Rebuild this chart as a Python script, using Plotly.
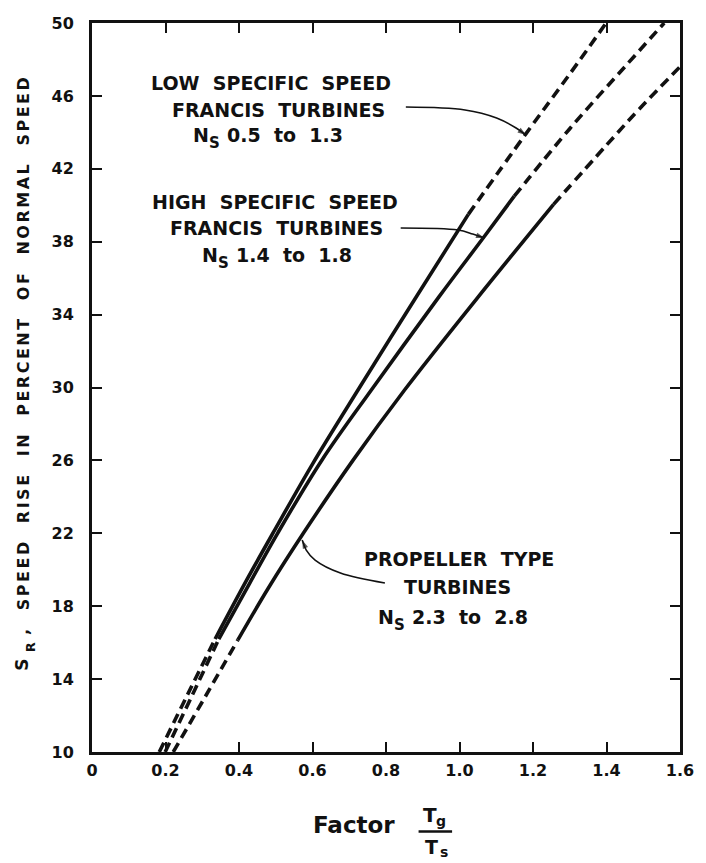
import plotly.graph_objects as go

# ---------------- data ----------------
x_ticks = [0, 0.2, 0.4, 0.6, 0.8, 1.0, 1.2, 1.4, 1.6]
x_tick_labels = ["0", "0.2", "0.4", "0.6", "0.8", "1.0", "1.2", "1.4", "1.6"]
y_ticks = [10, 14, 18, 22, 26, 30, 34, 38, 42, 46, 50]
y_tick_labels = ["10", "14", "18", "22", "26", "30", "34", "38", "42", "46", "50"]

# Low specific speed Francis turbines, Ns 0.5 to 1.3
low_x = [0.183, 0.26, 0.335, 0.42, 0.495, 0.60, 0.728, 0.88, 1.024, 1.18, 1.30, 1.399]
low_y = [10, 13.15, 16.2, 19.4, 22.1, 25.8, 30.0, 34.9, 39.5, 43.9, 47.2, 50]
low_solid = (2, 8)   # index range drawn solid; rest dashed

# High specific speed Francis turbines, Ns 1.4 to 1.8
mid_x = [0.199, 0.27, 0.345, 0.43, 0.505, 0.625, 0.765, 0.945, 1.068, 1.149, 1.30, 1.45, 1.557]
mid_y = [10, 13.0, 16.2, 19.3, 22.0, 26.0, 30.0, 35.0, 38.3, 40.5, 44.2, 47.6, 50]
mid_solid = (2, 9)

# Propeller type turbines, Ns 2.3 to 2.8
prop_x = [0.221, 0.31, 0.397, 0.48, 0.575, 0.71, 0.85, 1.044, 1.256, 1.40, 1.49, 1.60]
prop_y = [10, 13.1, 16.15, 19.0, 22.0, 26.0, 29.85, 34.8, 40.05, 43.3, 45.3, 47.6]
prop_solid = (2, 8)

# label texts (two heading lines + Ns range)
low_label = ["LOW  SPECIFIC  SPEED", "FRANCIS  TURBINES"]
mid_label = ["HIGH  SPECIFIC  SPEED", "FRANCIS  TURBINES"]
prop_label = ["PROPELLER  TYPE", "TURBINES"]
low_ns = "0.5  to  1.3"
mid_ns = "1.4  to  1.8"
prop_ns = "2.3  to  2.8"

# label anchor positions (data coordinates): line centres, Ns line = left edge of "N"
low_label_pos = [(0.488, 46.71), (0.507, 45.25)]
mid_label_pos = [(0.497, 40.18), (0.503, 38.75)]
prop_label_pos = [(0.998, 20.59), (0.995, 19.03)]
low_ns_pos = (0.2685, 43.86)
mid_ns_pos = (0.2926, 37.27)
prop_ns_pos = (0.773, 17.41)

# leader arrows: shaft points, last one is the tip (data coordinates)
low_arrow_x = [0.854, 1.015, 1.101, 1.154, 1.181]
low_arrow_y = [45.39, 45.23, 44.79, 44.24, 43.85]
mid_arrow_x = [0.840, 0.996, 1.036, 1.068]
mid_arrow_y = [38.75, 38.64, 38.42, 38.20]
prop_arrow_x = [0.797, 0.676, 0.607, 0.583, 0.572]
prop_arrow_y = [19.27, 19.82, 20.53, 21.08, 21.63]

FONT = "DejaVu Sans"
BLACK = "#111111"

fig = go.Figure()


def add_curve(xs, ys, solid):
    a, b = solid
    segs = [(0, a, "10px,6px"), (a, b, "solid"), (b, len(xs) - 1, "10px,6px")]
    for s, e, dash in segs:
        fig.add_trace(go.Scatter(
            x=xs[s:e + 1], y=ys[s:e + 1], mode="lines",
            line=dict(color=BLACK, width=3.6, dash=dash, shape="spline", smoothing=1.0),
            hoverinfo="skip", showlegend=False))


add_curve(low_x, low_y, low_solid)
add_curve(mid_x, mid_y, mid_solid)
add_curve(prop_x, prop_y, prop_solid)

# leader arrows (shaft + arrow-head marker at the tip)
for ax_, ay_ in [(low_arrow_x, low_arrow_y), (mid_arrow_x, mid_arrow_y), (prop_arrow_x, prop_arrow_y)]:
    n = len(ax_)
    fig.add_trace(go.Scatter(
        x=ax_, y=ay_, mode="lines+markers",
        line=dict(color=BLACK, width=1.6, shape="spline"),
        marker=dict(symbol="arrow", angleref="previous", color=BLACK,
                    size=[0] * (n - 1) + [9], line=dict(width=0)),
        hoverinfo="skip", showlegend=False))


def txt(x, y, t, size, xref="x", yref="y", xanchor="center", xshift=0, yshift=0, angle=0):
    fig.add_annotation(x=x, y=y, xref=xref, yref=yref, text=t, showarrow=False,
                       xanchor=xanchor, yanchor="middle", xshift=xshift, yshift=yshift,
                       textangle=angle,
                       font=dict(family=FONT, size=size, color=BLACK, weight="bold"))


for labels, poss in [(low_label, low_label_pos), (mid_label, mid_label_pos), (prop_label, prop_label_pos)]:
    for t, (px, py) in zip(labels, poss):
        txt(px, py, t, 19)

for ns, (px, py) in [(low_ns, low_ns_pos), (mid_ns, mid_ns_pos), (prop_ns, prop_ns_pos)]:
    txt(px, py, "N", 19, xanchor="left")
    txt(px, py, "S", 15, xanchor="left", xshift=16, yshift=-8)
    txt(px, py, ns, 19, xanchor="left", xshift=34)

# y-axis title: "S_R, SPEED RISE IN PERCENT OF NORMAL SPEED"
txt(-0.117, 0.545, '<span style="letter-spacing:2.5px">,  SPEED  RISE  IN  PERCENT  OF  NORMAL  SPEED</span>',
    16, xref="paper", yref="paper", angle=-90)
txt(-0.118, 0.119, "S", 17, xref="paper", yref="paper", angle=-90)
txt(-0.118, 0.143, "R", 13, xref="paper", yref="paper", angle=-90, xshift=8)

# x-axis title: Factor Tg / Ts
txt(0.4463, -0.1001, "Factor", 23, xref="paper", yref="paper")
txt(0.574, -0.0870, "T", 20, xref="paper", yref="paper")
txt(0.594, -0.0940, "g", 14, xref="paper", yref="paper")
txt(0.578, -0.1300, "T", 19, xref="paper", yref="paper")
txt(0.598, -0.1365, "s", 14, xref="paper", yref="paper")
fig.add_shape(type="line", xref="paper", yref="paper", x0=0.5554, x1=0.6124,
              y0=-0.1090, y1=-0.1090, line=dict(color=BLACK, width=2.5))

axis_common = dict(showgrid=False, zeroline=False, showline=True, linecolor=BLACK,
                   linewidth=3, mirror="allticks", ticks="inside", ticklen=10,
                   tickwidth=2, tickcolor=BLACK,
                   tickfont=dict(family=FONT, size=16, color=BLACK, weight="bold"))

fig.update_layout(
    width=706, height=863,
    margin=dict(l=92, r=18, t=23, b=111),
    paper_bgcolor="white", plot_bgcolor="white",
    xaxis=dict(range=[0, 1.6], tickvals=x_ticks, ticktext=x_tick_labels,
               ticklabelstandoff=2, **axis_common),
    yaxis=dict(range=[10, 50], tickvals=y_ticks, ticktext=y_tick_labels,
               ticklabelstandoff=12, **axis_common),
    showlegend=False,
)

fig.write_html("out.html", config={"displayModeBar": False},
               post_script="document.body.style.margin='0';document.body.style.overflow='hidden';")
